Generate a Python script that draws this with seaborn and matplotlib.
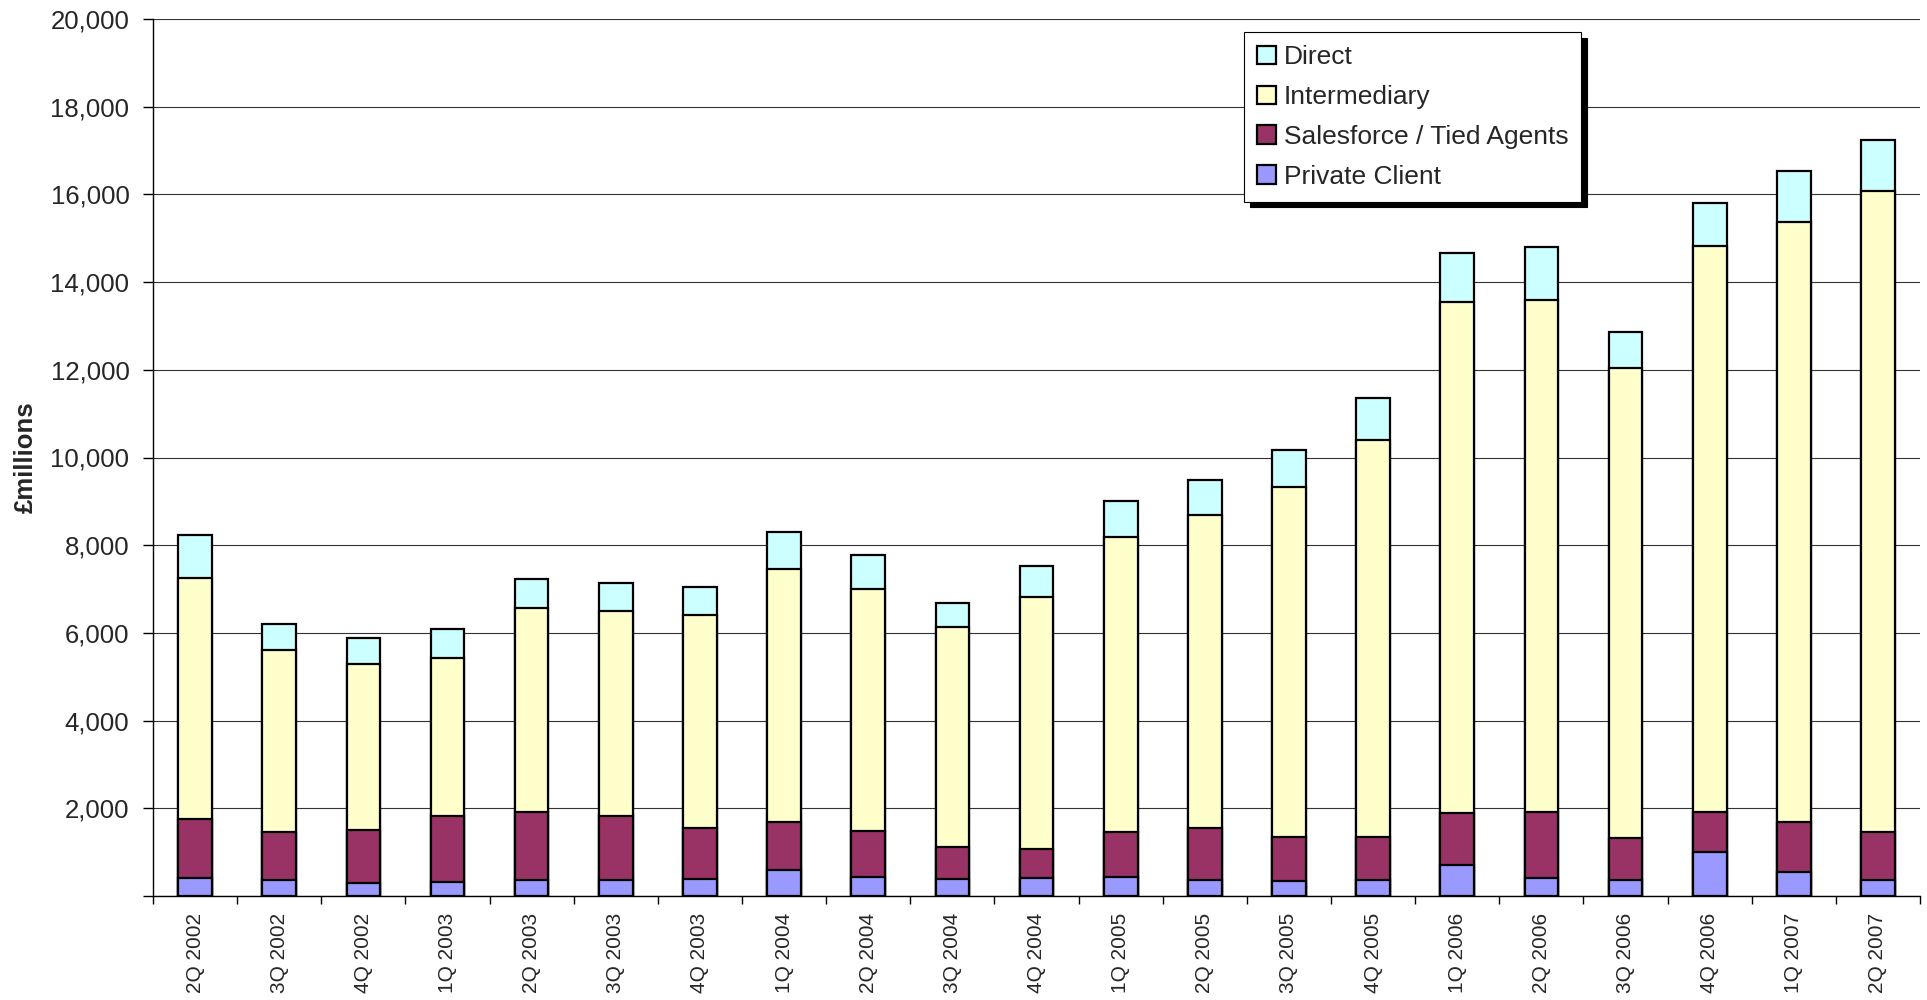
import seaborn as sns
import matplotlib.pyplot as plt
import matplotlib.ticker as mticker
from matplotlib.patches import Patch
import pandas as pd
import numpy as np

sns.set_style("white")
plt.rcParams['font.family'] = ['Liberation Sans', 'DejaVu Sans']

# ---- Data (£ millions) ----
quarters = ["2Q 2002", "3Q 2002", "4Q 2002", "1Q 2003", "2Q 2003", "3Q 2003", "4Q 2003",
            "1Q 2004", "2Q 2004", "3Q 2004", "4Q 2004", "1Q 2005", "2Q 2005", "3Q 2005",
            "4Q 2005", "1Q 2006", "2Q 2006", "3Q 2006", "4Q 2006", "1Q 2007", "2Q 2007"]

private_client = [418, 358, 304, 327, 358, 358, 380, 593, 433, 388, 418,
                  426, 372, 342, 365, 714, 403, 365, 996, 547, 372]
salesforce = [1338, 1109, 1209, 1490, 1566, 1460, 1164, 1103, 1057, 722, 661,
              1034, 1186, 996, 973, 1187, 1513, 958, 920, 1133, 1080]
intermediary = [5505, 4137, 3779, 3620, 4638, 4690, 4873, 5755, 5513, 5018, 5734,
                6736, 7133, 7999, 9056, 11656, 11672, 10721, 12918, 13687, 14622]
direct = [974, 608, 601, 661, 662, 639, 631, 859, 783, 563, 722,
          807, 806, 844, 958, 1103, 1209, 814, 966, 1177, 1164]

series = ["Private Client", "Salesforce / Tied Agents", "Intermediary", "Direct"]
colors = {"Private Client": "#9999FF", "Salesforce / Tied Agents": "#993366",
          "Intermediary": "#FFFFCC", "Direct": "#CCFFFF"}

df = pd.DataFrame({"Quarter": quarters, "Private Client": private_client,
                   "Salesforce / Tied Agents": salesforce,
                   "Intermediary": intermediary, "Direct": direct})
cum = df[series].cumsum(axis=1)
cum["Quarter"] = quarters

# ---- Plot: stacked bars drawn as layered cumulative bars ----
fig = plt.figure(figsize=(19.27, 10), dpi=100)
ax = fig.add_axes([0.0794, 0.104, 0.9170, 0.877])

for s in reversed(series):
    sns.barplot(data=cum, x="Quarter", y=s, color=colors[s], saturation=1,
                width=0.4, edgecolor="black", linewidth=1.6, ax=ax, zorder=3)

ax.set_xlim(-0.5, len(quarters) - 0.5)
ax.set_ylim(0, 20000)
ax.set_yticks(np.arange(0, 20001, 2000))
ax.yaxis.set_major_formatter(mticker.FuncFormatter(lambda v, p: "" if v == 0 else f"{v:,.0f}"))
ax.yaxis.grid(True, color="#333333", linewidth=0.8, zorder=0)
ax.set_axisbelow(True)

ax.set_xticks(range(len(quarters)))
ax.set_xticklabels(quarters, rotation=90, fontsize=15)
ax.set_xticks(np.arange(-0.5, len(quarters), 1), minor=True)
ax.tick_params(axis="x", which="major", length=0, pad=12)
ax.tick_params(axis="x", which="minor", length=6, width=1, color="black", direction="out", bottom=True)
ax.tick_params(axis="y", which="major", length=7, width=1, color="black", direction="out",
               left=True, labelsize=18.5, pad=10)

for side in ["top", "right"]:
    ax.spines[side].set_visible(False)
for side in ["left", "bottom"]:
    ax.spines[side].set_color("black")
    ax.spines[side].set_linewidth(1)

ax.set_xlabel("")
ax.set_ylabel("£millions", fontsize=18.5, fontweight="bold")
ax.yaxis.set_label_coords(-0.065, 0.5)

handles = [Patch(facecolor=colors[s], edgecolor="black", linewidth=1.6, label=s)
           for s in reversed(series)]
leg = ax.legend(handles=handles, loc="upper left", bbox_to_anchor=(0.6456, 0.968),
                bbox_transform=fig.transFigure, borderaxespad=0, fontsize=19,
                frameon=True, fancybox=False, framealpha=1, edgecolor="black",
                shadow={"ox": 4, "oy": -4, "color": "black", "alpha": 1},
                handlelength=0.7, handleheight=0.7, handletextpad=0.3,
                labelspacing=0.6, borderpad=0.5)
leg.get_frame().set_linewidth(0.8)

fig.savefig("out.png", dpi=100)
plt.close()
